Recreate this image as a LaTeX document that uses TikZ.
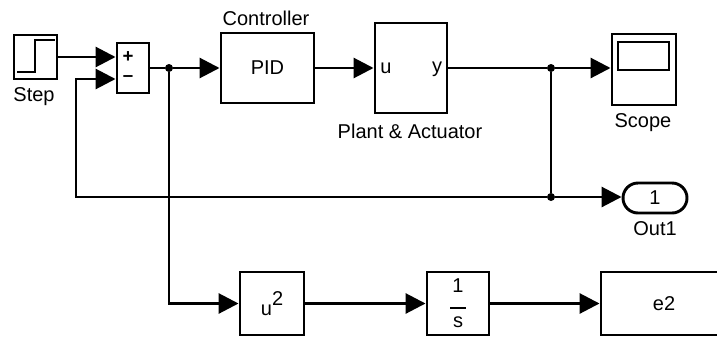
\documentclass[tikz,border=0pt]{standalone}
\usepackage{fontspec}
\setmainfont{Liberation Sans}
\usetikzlibrary{arrows.meta,shapes.misc}

\tikzset{
	blockbox/.style={draw, line width=2.2pt, inner sep=0pt, align=center, font=\lblfont},
	wire/.style={line width=2.2pt},
	sig/.style={wire, -{Triangle[length=15pt,width=15pt]}},
	dotjoint/.style={circle, fill, inner sep=0pt, minimum size=6pt},
	lbl/.style={inner sep=0pt, font=\lblfont},
	signlbl/.style={inner sep=0pt, font=\bfseries\fontsize{14}{14}\selectfont}
}
\newcommand{\lblfont}{\fontsize{15}{17}\selectfont}

\begin{document}
\begin{tikzpicture}[x=0.75pt, y=-0.75pt]
	\useasboundingbox (0,0) rectangle (717,336);

	\node[blockbox, minimum width=32.25pt, minimum height=33pt](STEP) at (35.5,57){};
	\node[lbl](STEPL) at (34,97){Step};
	\node[blockbox, minimum width=24pt, minimum height=37.5pt](SUM) at (133,68){};
	\node[signlbl](PLUS) at (128,57){+};
	\node[signlbl](MINUS) at (128,79){--};
	\node[blockbox, minimum width=69.75pt, minimum height=52.5pt](PID) at (267.5,68){PID};
	\node[lbl](PIDL) at (266,18){Controller};
	\node[blockbox, minimum width=54pt, minimum height=67.5pt](PLANT) at (411,68){};
	\node[lbl](U) at (386,68){u};
	\node[lbl](Y) at (437,69){y};
	\node[lbl](PLANTL) at (410,131){Plant \& Actuator};
	\node[blockbox, minimum width=48pt, minimum height=53.25pt](SCOPE) at (644,69.5){};
	\node[draw, line width=2.2pt, minimum width=38.25pt, minimum height=21pt, inner sep=0pt](SCREEN) at (643.5,56){};
	\node[lbl](SCOPEL) at (643,123){Scope};
	\node[blockbox, rounded rectangle, minimum width=48pt, minimum height=22.5pt](OUT) at (655,198){1};
	\node[lbl](OUTL) at (655,229){Out1};
	\node[blockbox, minimum width=48pt, minimum height=47.25pt](SQ) at (272,303.5){u\raisebox{8pt}{2}};
	\node[blockbox, minimum width=46.5pt, minimum height=47.25pt](INT) at (458,303.5){1\\[-5pt]\rule{12pt}{1.4pt}\\[-3pt]s};
	\node[blockbox, minimum width=94.5pt, minimum height=47.25pt](E2) at (664,303.5){e2};

	\coordinate(S1) at (17,72);
	\coordinate(S2) at (35,72);
	\coordinate(S3) at (35,40);
	\coordinate(S4) at (55,40);
	\draw[wire] (S1) -- (S2) -- (S3) -- (S4);

	\coordinate(IN1) at (SUM.west |- 0,57);
	\coordinate(IN2) at (SUM.west |- 0,79);
	\coordinate(ST) at (STEP.east |- 0,57);
	\draw[sig] (ST) -- (IN1);

	\node[dotjoint](J1) at (169,68){};
	\node[dotjoint](J2) at (551,68){};
	\node[dotjoint](J3) at (551,197){};
	\coordinate(FB1) at (76,197);
	\coordinate(FB2) at (76,79);
	\coordinate(LOW) at (169,303.5);

	\draw[wire] (SUM.east |- J1) -- (J1);
	\draw[sig] (J1) -- (PID.west |- J1);
	\draw[sig] (PID.east) -- (PLANT.west |- PID.east);
	\draw[wire] (PLANT.east |- J2) -- (J2);
	\draw[sig] (J2) -- (SCOPE.west |- J2);
	\draw[wire] (J2) -- (J3);
	\draw[sig] (J3) -- (OUT.west |- J3);
	\draw[sig] (J3) -- (FB1) -- (FB2) -- (IN2);
	\draw[sig] (J1) -- (LOW) -- (SQ.west);
	\draw[sig] (SQ.east) -- (INT.west);
	\draw[sig] (INT.east) -- (E2.west);
\end{tikzpicture}
\end{document}
